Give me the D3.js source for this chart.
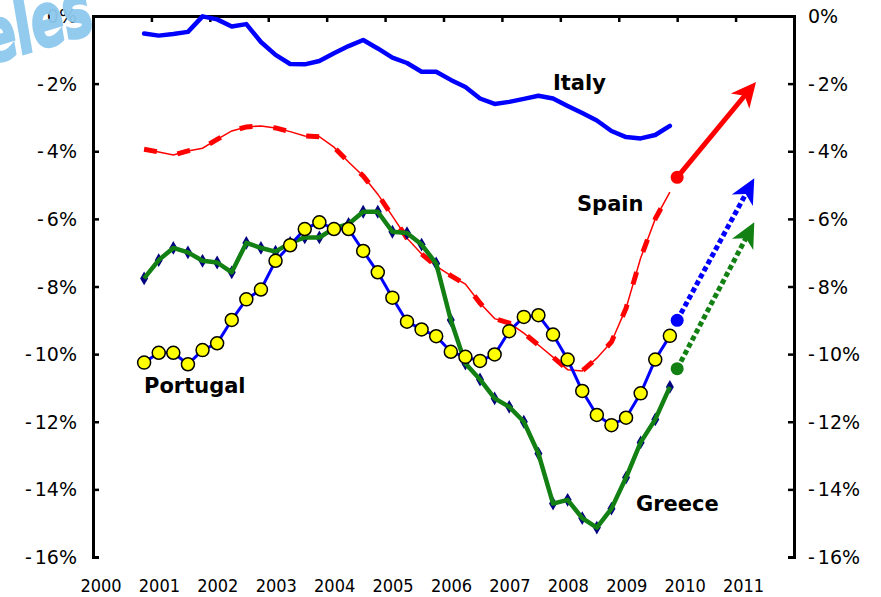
<!DOCTYPE html>
<html>
<head>
<meta charset="utf-8">
<script src="https://cdn.jsdelivr.net/npm/d3@7"></script>
<style>
html, body { margin: 0; padding: 0; background: #fff; }
svg { display: block; }
</style>
</head>
<body>
<svg id="chart"></svg>
<script>
// quarterly observations, Q4 2000 .. Q4 2009
const quarters = [
  "2000Q4",
  "2001Q1","2001Q2","2001Q3","2001Q4",
  "2002Q1","2002Q2","2002Q3","2002Q4",
  "2003Q1","2003Q2","2003Q3","2003Q4",
  "2004Q1","2004Q2","2004Q3","2004Q4",
  "2005Q1","2005Q2","2005Q3","2005Q4",
  "2006Q1","2006Q2","2006Q3","2006Q4",
  "2007Q1","2007Q2","2007Q3","2007Q4",
  "2008Q1","2008Q2","2008Q3","2008Q4",
  "2009Q1","2009Q2","2009Q3","2009Q4"
];
const italy = [-0.52,-0.58,-0.53,-0.47,-0.01,-0.10,-0.31,-0.24,-0.77,-1.15,-1.42,-1.43,-1.33,-1.10,-0.89,-0.71,-0.96,-1.23,-1.39,-1.65,-1.65,-1.89,-2.10,-2.44,-2.60,-2.54,-2.45,-2.36,-2.44,-2.66,-2.87,-3.09,-3.40,-3.58,-3.62,-3.52,-3.25];
const spain = [-3.94,-4.02,-4.11,-3.99,-3.91,-3.65,-3.40,-3.28,-3.25,-3.31,-3.42,-3.55,-3.57,-3.88,-4.32,-4.73,-5.27,-5.92,-6.57,-7.04,-7.40,-7.68,-7.93,-8.49,-8.95,-9.08,-9.38,-9.73,-10.09,-10.46,-10.50,-10.12,-9.64,-8.64,-7.16,-6.00,-5.21];
const portugal = [-10.25,-9.96,-9.96,-10.30,-9.88,-9.68,-8.99,-8.38,-8.09,-7.24,-6.78,-6.30,-6.10,-6.30,-6.30,-6.95,-7.58,-8.33,-9.04,-9.27,-9.47,-9.93,-10.08,-10.20,-10.01,-9.32,-8.90,-8.85,-9.42,-10.16,-11.09,-11.80,-12.10,-11.88,-11.16,-10.16,-9.46];
const greece = [-7.76,-7.22,-6.86,-6.99,-7.24,-7.29,-7.58,-6.71,-6.86,-6.97,-6.71,-6.55,-6.55,-6.28,-6.15,-5.79,-5.79,-6.38,-6.42,-6.76,-7.32,-8.99,-10.28,-10.75,-11.31,-11.56,-12.00,-12.94,-14.42,-14.31,-14.85,-15.13,-14.57,-13.65,-12.61,-11.93,-10.97];

// projection arrows: [year, value] start and tip
const spainArrow = [[2010.0, -4.77], [2011.35, -1.95]];
const portugalArrow = [[2010.0, -9.0], [2011.32, -4.8]];
const greeceArrow = [[2010.0, -10.43], [2011.32, -6.1]];

const yearLabels = ["2000","2001","2002","2003","2004","2005","2006","2007","2008","2009","2010","2011"];
const yTicks = [0,-2,-4,-6,-8,-10,-12,-14,-16];
const yTickLabels = ["0%","-2%","-4%","-6%","-8%","-10%","-12%","-14%","-16%"];

const W = 881, H = 597;
const BLUE = "#0000ff", RED = "#ff0000", GREEN = "#128012";

const svg = d3.select("#chart").attr("width", W).attr("height", H);

const x = d3.scaleLinear().domain([2000, 2012]).range([93, 794]);
const y = d3.scaleLinear().domain([0, -16]).range([16, 557]);

// quarter label -> mid-quarter decimal year
const qTime = q => +q.slice(0, 4) + (+q.slice(5) - 1) * 0.25 + 0.125;
const line = d3.line().x((d, i) => x(qTime(quarters[i]))).y(d => y(d));

// axes
const styleAxis = g => {
  g.select(".domain").attr("stroke", "#000").attr("stroke-width", 3);
  g.selectAll(".tick line").attr("stroke", "#000").attr("stroke-width", 2.5);
};
svg.append("g").attr("transform", "translate(93,0)")
  .call(d3.axisRight(y).tickValues(yTicks).tickSize(6).tickSizeOuter(6).tickFormat(""))
  .call(styleAxis);
svg.append("g").attr("transform", "translate(794,0)")
  .call(d3.axisLeft(y).tickValues(yTicks).tickSize(6).tickSizeOuter(6).tickFormat(""))
  .call(styleAxis);
svg.append("g").attr("transform", "translate(0,16)")
  .call(d3.axisBottom(x).tickValues(yearLabels.slice(1).map(Number)).tickSize(6).tickSizeOuter(0).tickFormat(""))
  .call(styleAxis);

// tick labels
const yLab = (sel, xx, anchor) => {
  const t = sel.selectAll(null).data(yTicks).enter().append("text")
    .attr("x", xx).attr("y", d => y(d) + 7)
    .attr("text-anchor", anchor)
    .attr("font-family", "DejaVu Sans, Verdana, sans-serif")
    .attr("font-size", 19).attr("fill", "#000");
  t.each(function (d, i) {
    const s = yTickLabels[i];
    const el = d3.select(this);
    if (s[0] === "-") {
      el.append("tspan").text("-");
      el.append("tspan").attr("dx", 3).text(s.slice(1));
    } else {
      el.text(s);
    }
  });
};
yLab(svg.append("g"), 77, "end");
yLab(svg.append("g"), 808, "start");

svg.append("g").selectAll("text").data(yearLabels).enter().append("text")
  .attr("x", d => x(+d) + 8).attr("y", 592)
  .attr("text-anchor", "middle")
  .attr("font-family", "DejaVu Sans Condensed, DejaVu Sans, sans-serif")
  .style("font-stretch", "condensed")
  .attr("font-size", 18).attr("fill", "#000")
  .text(d => d);

// Italy
svg.append("path").datum(italy).attr("d", line)
  .attr("fill", "none").attr("stroke", BLUE).attr("stroke-width", 4.5)
  .attr("stroke-linejoin", "round").attr("stroke-linecap", "round");

// Spain: thin line with heavy dashes on top
svg.append("path").datum(spain).attr("d", line)
  .attr("fill", "none").attr("stroke", RED).attr("stroke-width", 1.5);
svg.append("path").datum(spain).attr("d", line)
  .attr("fill", "none").attr("stroke", RED).attr("stroke-width", 5)
  .attr("stroke-dasharray", "13,21");

// Greece: blue line with navy diamonds, heavy green line over it
svg.append("path").datum(greece).attr("d", line)
  .attr("fill", "none").attr("stroke", BLUE).attr("stroke-width", 3);
svg.append("g").selectAll("path").data(greece).enter().append("path")
  .attr("transform", (d, i) => `translate(${x(qTime(quarters[i]))},${y(d)})`)
  .attr("d", d3.symbol(d3.symbolDiamond, 55))
  .attr("fill", "#000080");
svg.append("path").datum(greece).attr("d", line)
  .attr("fill", "none").attr("stroke", GREEN).attr("stroke-width", 4.5)
  .attr("stroke-linejoin", "round");

// Portugal: blue line with yellow circles
svg.append("path").datum(portugal).attr("d", line)
  .attr("fill", "none").attr("stroke", BLUE).attr("stroke-width", 3);
svg.append("g").selectAll("circle").data(portugal).enter().append("circle")
  .attr("cx", (d, i) => x(qTime(quarters[i]))).attr("cy", d => y(d))
  .attr("r", 6.5).attr("fill", "#ffff00").attr("stroke", "#000").attr("stroke-width", 1.5);

// projection arrows
const defs = svg.append("defs");
[["aRed", RED], ["aBlue", BLUE], ["aGreen", GREEN]].forEach(([id, c]) => {
  defs.append("marker").attr("id", id)
    .attr("markerUnits", "userSpaceOnUse")
    .attr("viewBox", "-28 -15 32 30").attr("markerWidth", 32).attr("markerHeight", 30)
    .attr("refX", 0).attr("refY", 0).attr("orient", "auto")
    .append("path").attr("d", "M0,0 L-25,-12 L-18,0 L-25,12 Z").attr("fill", c);
});
const arrow = (pts, color, marker, dash) => {
  const [a, b] = pts;
  const ang = Math.atan2(y(b[1]) - y(a[1]), x(b[0]) - x(a[0]));
  svg.append("line")
    .attr("x1", x(a[0])).attr("y1", y(a[1]))
    .attr("x2", x(b[0]) - 15 * Math.cos(ang)).attr("y2", y(b[1]) - 15 * Math.sin(ang))
    .attr("stroke", color).attr("stroke-width", 5)
    .attr("stroke-dasharray", dash);
  svg.append("line")
    .attr("x1", x(b[0]) - 1 * Math.cos(ang)).attr("y1", y(b[1]) - 1 * Math.sin(ang))
    .attr("x2", x(b[0])).attr("y2", y(b[1]))
    .attr("stroke", "none")
    .attr("marker-end", `url(#${marker})`);
  svg.append("circle").attr("cx", x(a[0])).attr("cy", y(a[1])).attr("r", 6.5).attr("fill", color);
};
arrow(spainArrow, RED, "aRed", null);
arrow(portugalArrow, BLUE, "aBlue", "5,3");
arrow(greeceArrow, GREEN, "aGreen", "5,3");

// series labels
const labels = [
  { text: "Italy", x: 553, y: 90 },
  { text: "Spain", x: 577, y: 211 },
  { text: "Portugal", x: 144, y: 393 },
  { text: "Greece", x: 636, y: 511 }
];
svg.append("g").selectAll("text").data(labels).enter().append("text")
  .attr("x", d => d.x).attr("y", d => d.y)
  .attr("font-family", "DejaVu Sans, Verdana, sans-serif")
  .attr("font-weight", "bold").attr("font-size", 21).attr("fill", "#000")
  .text(d => d.text);

// watermark in the corner, partly off the page like the original
svg.append("text")
  .attr("transform", "translate(-10,64) rotate(-17) scale(0.66,1)")
  .attr("font-family", "DejaVu Sans, sans-serif")
  .attr("font-weight", "bold").attr("font-style", "italic")
  .attr("font-size", 74).attr("fill", "#8ec9ee")
  .attr("stroke", "#8ec9ee").attr("stroke-width", 3)
  .attr("opacity", 0.95)
  .text("eles");
</script>
</body>
</html>
